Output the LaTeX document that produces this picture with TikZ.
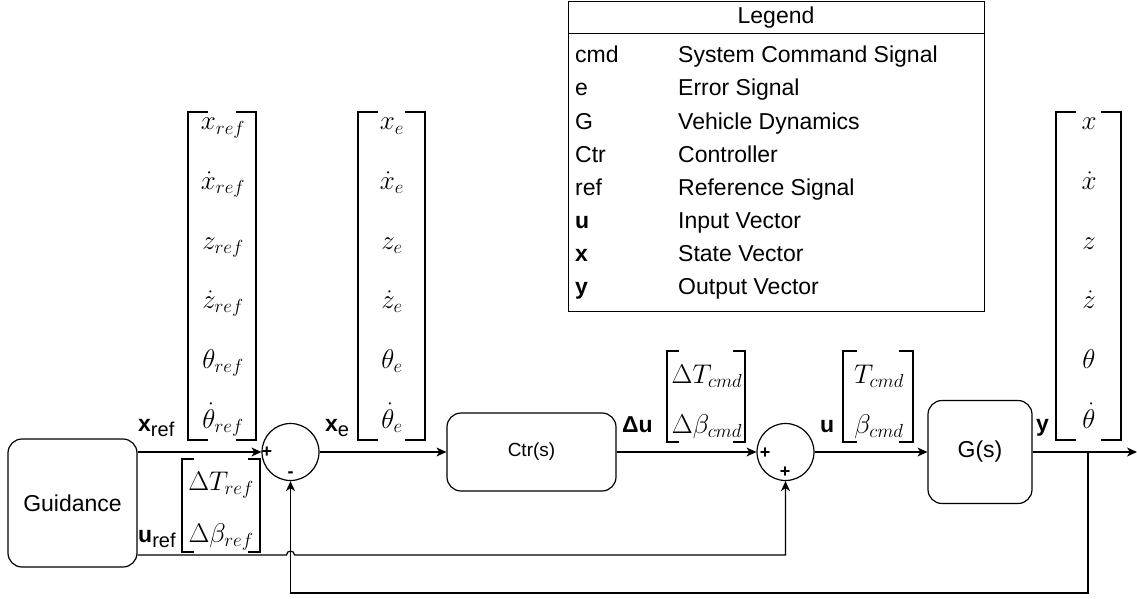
\RequirePackage{fix-cm}
\documentclass[tikz,border=0pt]{standalone}
\usepackage{fontspec}
\setsansfont{Liberation Sans}
\usetikzlibrary{arrows.meta,calc}
\newcommand{\fsz}[1]{\fontsize{#1}{#1}\selectfont}
\newcommand{\brkpair}[5]{%
  \draw[brk] (#1+#5,#3) -- (#1,#3) -- (#1,#4) -- (#1+#5,#4);
  \draw[brk] (#2-#5,#3) -- (#2,#3) -- (#2,#4) -- (#2-#5,#4);}
\begin{document}
\begin{tikzpicture}[x=1pt,y=-1pt,
  blk/.style={draw, rounded corners=14pt, line width=1.2pt, font=\sffamily\fsz{23}},
  sumnode/.style={draw, circle, minimum size=57pt, inner sep=0pt, line width=1.2pt},
  conn/.style={line width=1.2pt},
  arr/.style={conn, -{Stealth[length=10pt,width=9pt,inset=3pt]}},
  brk/.style={line width=2.4pt},
  mth/.style={font=\fsz{27}, anchor=base, inner sep=0pt},
  sig/.style={font=\sffamily\fsz{23}, anchor=base west, inner sep=0pt},
  sgn/.style={font=\sffamily\bfseries\fsz{18}, inner sep=0pt},
  legtxt/.style={font=\sffamily\fsz{23}, anchor=west, inner sep=0pt, text height=17pt, text depth=5pt}]
\useasboundingbox (0,0) rectangle (1137,599);

% blocks
\node[blk, minimum width=129pt, minimum height=128pt] (guid) at (72.5,503) {Guidance};
\node[blk, minimum width=169pt, minimum height=78pt, font=\sffamily\fsz{19}] (ctr) at (531.5,452) {Ctr(s)};
\node[blk, minimum width=104pt, minimum height=103pt] (G) at (980,452) {G(s)};
\node[sumnode] (s1) at (290.5,452) {};
\node[sumnode] (s2) at (785.5,452) {};
\node[sgn] (p1) at (267,452) {+};
\node[sgn] (m1) at (290.5,475) {-};
\node[sgn] (p2) at (765,453) {+};
\node[sgn] (p3) at (785,472) {+};

\coordinate (split) at (1088,452);
\coordinate (yout) at (1137,452);
\coordinate (fbr) at (1088,593);
\coordinate (fbl) at (290.5,593);
\coordinate (ur0) at ($(guid.east)+(0,52)$);
\coordinate (hopA) at (286.5,555);
\coordinate (ur1) at (785.5,555);

% connectors
\draw[arr] (guid.east |- s1) -- (s1.west);
\draw[arr] (s1.east) -- (ctr.west);
\draw[arr] (ctr.east) -- (s2.west);
\draw[arr] (s2.east) -- (G.west);
\draw[arr] (G.east) -- (yout);
\draw[arr] (split) -- (fbr) -- (fbl) -- (s1.south);
\draw[arr] (ur0) -- (hopA) arc[start angle=180, end angle=0, radius=4pt] -- (ur1) -- (s2.south);

% signal labels
\node[sig] (lxref) at (138,431) {\textbf{x}\raisebox{-5pt}{\fsz{20}ref}};
\node[sig] (luref) at (138,542) {\textbf{u}\raisebox{-5pt}{\fsz{20}ref}};
\node[sig] (lxe) at (325,431) {\textbf{x}\raisebox{-5pt}{\fsz{20}e}};
\node[sig] (ldu) at (622,432) {\textbf{Δu}};
\node[sig] (lu) at (820,432) {\textbf{u}};
\node[sig] (ly) at (1036,431) {\textbf{y}};

% x_ref vector
\brkpair{188}{256}{112}{440}{20}
\node[mth] at (223,130) {$x_{ref}$};
\node[mth] at (223,189.6) {$\dot{x}_{ref}$};
\node[mth] at (223,249.2) {$z_{ref}$};
\node[mth] at (223,308.8) {$\dot{z}_{ref}$};
\node[mth] at (223,368.4) {$\theta_{ref}$};
\node[mth] at (223,428) {$\dot{\theta}_{ref}$};

% x_e vector
\brkpair{358}{425}{112}{440}{20}
\node[mth] at (392,130) {$x_{e}$};
\node[mth] at (392,189.6) {$\dot{x}_{e}$};
\node[mth] at (392,249.2) {$z_{e}$};
\node[mth] at (392,308.8) {$\dot{z}_{e}$};
\node[mth] at (392,368.4) {$\theta_{e}$};
\node[mth] at (392,428) {$\dot{\theta}_{e}$};

% y vector
\brkpair{1056}{1121}{112}{440}{20}
\node[mth] at (1089,130) {$x$};
\node[mth] at (1089,189.6) {$\dot{x}$};
\node[mth] at (1089,249.2) {$z$};
\node[mth] at (1089,308.8) {$\dot{z}$};
\node[mth] at (1089,368.4) {$\theta$};
\node[mth] at (1089,428) {$\dot{\theta}$};

% u_ref vector
\brkpair{182}{260}{459}{552}{12}
\node[mth] at (221,490) {$\Delta T_{ref}$};
\node[mth] at (221,542) {$\Delta\beta_{ref}$};

% delta u vector
\brkpair{667}{745}{351}{442}{12}
\node[mth] at (707,383) {$\Delta T_{cmd}$};
\node[mth] at (707,433) {$\Delta\beta_{cmd}$};

% u vector
\brkpair{843}{913}{351}{442}{14}
\node[mth] at (879,383) {$T_{cmd}$};
\node[mth] at (879,433) {$\beta_{cmd}$};

% legend
\draw[line width=1pt] (568,2) rectangle (984,311);
\draw[line width=1pt] (568,34) -- (984,34);
\node[font=\sffamily\fsz{23}, inner sep=0pt] (lghead) at (776,18) {Legend};
\foreach \k/\a/\b in {0/cmd/System Command Signal, 1/e/Error Signal, 2/G/Vehicle Dynamics,
  3/Ctr/Controller, 4/ref/Reference Signal, 5/\textbf{u}/Input Vector,
  6/\textbf{x}/State Vector, 7/\textbf{y}/Output Vector}{
  \node[legtxt] (lga\k) at (575,57+33*\k) {\a};
  \node[legtxt] (lgb\k) at (678,57+33*\k) {\b};
}
\end{tikzpicture}
\end{document}
